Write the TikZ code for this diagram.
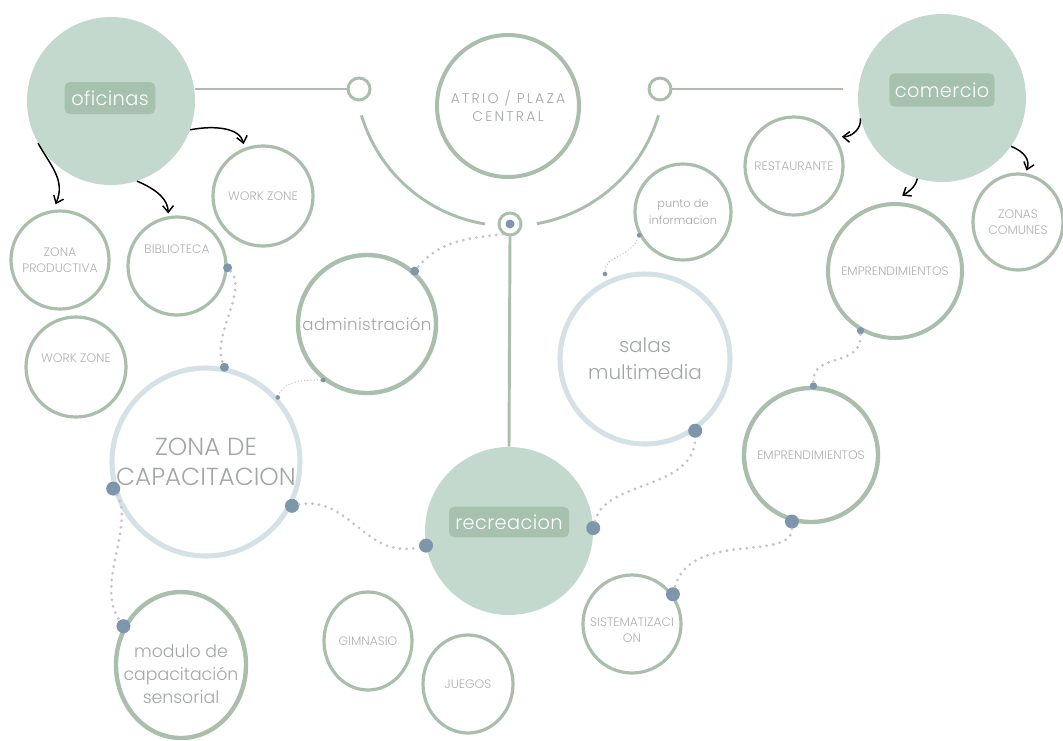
\documentclass[tikz,border=0pt]{standalone}
\usepackage{fontspec}
\setmainfont{Poppins Light}
\usetikzlibrary{arrows.meta,shapes.geometric}

\definecolor{hubfill}{HTML}{C3D9CD}
\definecolor{tagfill}{HTML}{A6C1AE}
\definecolor{sage}{HTML}{A9BFAB}
\definecolor{softblue}{HTML}{D4E1E6}
\definecolor{dotblue}{HTML}{7E96AB}
\definecolor{trailc}{HTML}{C9C0C8}
\definecolor{txtgray}{HTML}{A3A6A6}
\definecolor{capgray}{HTML}{B0B0B0}

\begin{document}
\begin{tikzpicture}[x=0.75pt,y=-0.75pt,
  hub/.style={circle,fill=hubfill,inner sep=0pt,minimum size=126pt},
  tag/.style={rounded corners=4pt,fill=tagfill,text=white,inner sep=0pt,
    font={\addfontfeature{LetterSpace=2}\fontsize{14.5}{16}\selectfont}},
  joint/.style={circle,draw=sage,line width=2.2pt,fill=white,inner sep=0pt,minimum size=16.5pt},
  ring/.style={circle,draw=sage,line width=2.4pt,inner sep=0pt,align=center},
  oval/.style={ellipse,draw=sage,line width=2.4pt,inner sep=0pt,align=center},
  softring/.style={circle,draw=softblue,line width=3.8pt,inner sep=0pt,align=center},
  caps/.style={text=capgray,align=center,font=\fontsize{9.2}{12}\selectfont},
  lbl/.style={text=txtgray},
  bigdot/.style={circle,fill=dotblue,inner sep=0pt,minimum size=10.5pt},
  middot/.style={circle,fill=dotblue,inner sep=0pt,minimum size=6.75pt},
  tinydot/.style={circle,fill=dotblue,inner sep=0pt,minimum size=3.5pt},
  link/.style={draw=sage,line width=2.2pt},
  trail/.style={draw=trailc,line width=2.3pt,line cap=round,dash pattern=on 0pt off 5pt},
  thintrail/.style={draw=trailc,line width=1.1pt,line cap=round,dash pattern=on 0pt off 2.4pt},
  hand/.style={draw=black,line width=1.1pt,-{Straight Barb[length=5pt,width=8pt]}}
]
\useasboundingbox (0,0) rectangle (1063,740);

% central axis: two arcs around the atrium
\draw[link] (510,71) ++(163.4:155) arc[start angle=163.4,end angle=99.3,radius=155];
\draw[link] (510,71) ++(16.6:155) arc[start angle=16.6,end angle=80,radius=155];

% main hubs
\node[hub] (ofi) at (111,101) {};
\node[tag,minimum width=68pt,minimum height=24pt] (ofitag) at (110,98) {oficinas};
\node[hub] (com) at (942,98) {};
\node[tag,minimum width=79pt,minimum height=25pt] (comtag) at (942,90) {comercio};
\node[hub] (rec) at (509,531) {};
\node[tag,minimum width=90pt,minimum height=23pt] (rectag) at (509,522) {recreacion};

% joints on the axis
\node[joint] (lj) at (359,89) {};
\node[joint] (rj) at (660,89) {};
\node[joint] (tgt) at (510,224) {};
\node[middot] (tgtdot) at (tgt) {};

\draw[link] (lj.west) -- (lj.west -| ofi.east);
\draw[link,shorten >=11pt] (rj.east) -- (rj.east -| com.west);
\draw[link] (tgt.south) -- (rec.north);

% atrium
\node[ring,line width=3pt,minimum size=106.5pt,text=txtgray,
  font={\addfontfeature{LetterSpace=16}\fontsize{10.5}{13.5}\selectfont}] (atrio) at (508,106)
  {ATRIO / PLAZA\\CENTRAL};

% oficinas branch
\node[ring,caps,minimum size=75pt] (wz1) at (263,196) {WORK ZONE};
\node[ring,caps,minimum size=73.5pt] (zp) at (60,260) {ZONA\\PRODUCTIVA};
\node[ring,minimum size=73.5pt] (bib) at (177,266) {};
\node[caps] (bibt) at (177,249) {BIBLIOTECA};
\node[ring,minimum size=75pt] (wz2) at (76,367) {};
\node[caps] (wz2t) at (76,358) {WORK ZONE};

% middle ring
\node[ring,line width=3.3pt,minimum size=103.5pt,lbl,
  font={\addfontfeature{LetterSpace=2}\fontsize{12.5}{15}\selectfont}] (adm) at (367,324) {administración};
\node[softring,minimum size=141pt,lbl,font=\fontsize{18.5}{23}\selectfont] (zona) at (206,462) {ZONA DE\\CAPACITACION};
\node[softring,minimum size=127.5pt,lbl,font=\fontsize{15}{20}\selectfont] (salas) at (645,359) {salas\\multimedia};
\node[ring,minimum size=72pt,lbl,font=\fontsize{8.5}{12.5}\selectfont] (punto) at (683,212) {punto de\\informacion};

% comercio branch
\node[ring,caps,minimum size=73.5pt] (rest) at (794,166) {RESTAURANTE};
\node[oval,caps,minimum width=67.5pt,minimum height=72pt] (zc) at (1018,222) {ZONAS\\COMUNES};
\node[ring,caps,line width=3pt,minimum size=100.5pt] (emp1) at (895,271) {EMPRENDIMIENTOS};
\node[ring,caps,line width=3.3pt,minimum size=100.5pt] (emp2) at (811,455) {EMPRENDIMIENTOS};
\node[ring,minimum size=73.5pt] (sis) at (632,624) {};
\node[caps] (sist) at (632,630) {SISTEMATIZACI\\ON};

% recreacion branch
\node[oval,caps,minimum width=66pt,minimum height=73.5pt] (gim) at (368,641) {GIMNASIO};
\node[oval,caps,minimum width=67.5pt,minimum height=73.5pt] (jue) at (468,684) {JUEGOS};
\node[oval,line width=3.3pt,minimum width=97.5pt,minimum height=109.5pt] (mod) at (181,665) {};
\node[lbl,align=center,font=\fontsize{13}{17.5}\selectfont] (modt) at (181,674) {modulo de\\capacitación\\sensorial};

% hand-drawn arrows
\draw[hand] (ofi.210) .. controls (50,165) and (66,180) .. ([yshift=4pt]zp.95);
\draw[hand] (ofi.288) .. controls (158,190) and (168,200) .. ([yshift=2pt]bib.100);
\draw[hand] (ofi.340) .. controls (215,125) and (240,128) .. ([yshift=3pt]wz1.112);
\draw[hand] (com.194) .. controls (862,128) and (852,137) .. ([shift={(3pt,3pt)}]rest.30);
\draw[hand] (com.253) .. controls (915,188) and (908,192) .. ([yshift=5pt]emp1.84);
\draw[hand] (com.325) .. controls (1025,152) and (1030,160) .. ([yshift=2pt]zc.80);

% connection dots
\node[middot] (dadm) at (adm.48) {};
\node[middot] (dbib) at (bib.358) {};
\node[middot] (dzt) at (zona.79) {};
\node[tinydot] (dadm2) at (adm.232) {};
\node[tinydot] (dzr2) at (zona.42) {};
\node[bigdot] (dzl) at (zona.196) {};
\node[bigdot] (dmod) at (mod.146) {};
\node[bigdot] (dzr) at (zona.333) {};
\node[bigdot] (drl) at (rec.190) {};
\node[bigdot] (drr) at (rec.2) {};
\node[bigdot] (dsal) at (salas.305) {};
\node[tinydot] (dpun) at (punto.208) {};
\node[tinydot] (dfree) at (605,274) {};
\node[middot,minimum size=5.5pt] (de1) at (emp1.240) {};
\node[middot,minimum size=5.5pt] (de2t) at (emp2.88) {};
\node[bigdot] (de2b) at (emp2.254) {};
\node[bigdot] (dsis) at (sis.36) {};

% dotted trails
\draw[trail] (tgt.235) .. controls (470,238) and (440,240) .. (dadm);
\draw[trail] (dbib) .. controls (248,290) and (212,335) .. (dzt);
\draw[thintrail] (dadm2) .. controls (305,380) and (285,380) .. (dzr2);
\draw[trail] (dzl) .. controls (135,525) and (95,585) .. (dmod);
\draw[trail] (dzr) .. controls (350,495) and (365,560) .. (drl);
\draw[trail] (drr) .. controls (605,480) and (695,490) .. (dsal);
\draw[thintrail] (dpun) .. controls (630,258) and (605,255) .. (dfree);
\draw[trail] (de1) .. controls (862,368) and (812,352) .. (de2t);
\draw[trail] (de2b) .. controls (792,562) and (690,530) .. (dsis);
\end{tikzpicture}
\end{document}
